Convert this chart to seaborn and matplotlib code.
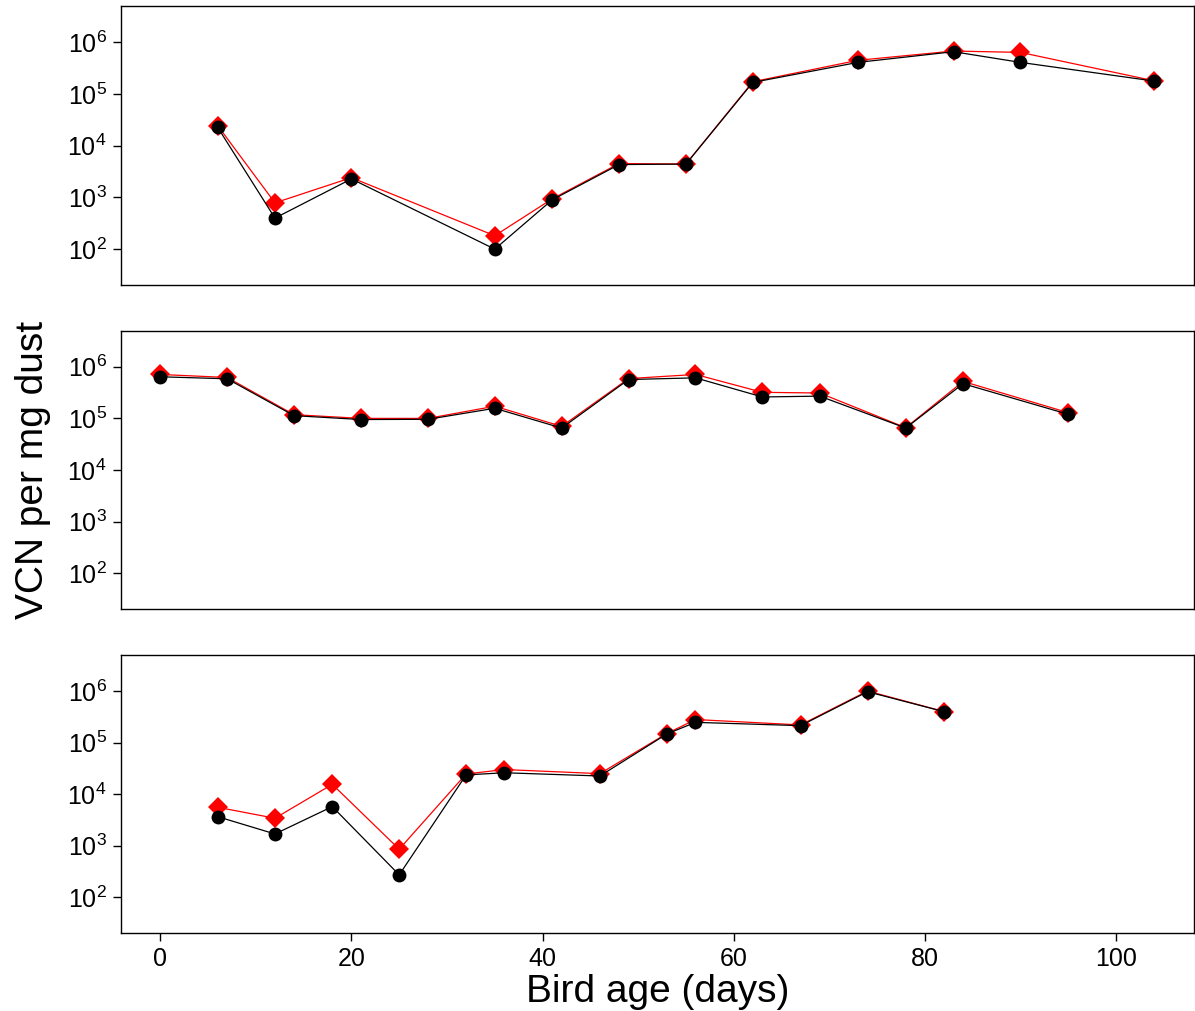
import numpy as np
import pandas as pd
import seaborn as sns
import matplotlib
matplotlib.use("Agg")
import matplotlib.pyplot as plt
from matplotlib.ticker import LogLocator, NullLocator, LogFormatterSciNotation

# bird age (days) and VCN per mg dust, one pair of series per panel
top_days = [6, 12, 20, 35, 41, 48, 55, 62, 73, 83, 90, 104]
top_red = [2.45e4, 780, 2400, 180, 930, 4500, 4400, 1.73e5, 4.5e5, 6.8e5, 6.4e5, 1.8e5]
top_black = [2.27e4, 395, 2270, 99, 890, 4300, 4400, 1.68e5, 4.1e5, 6.6e5, 4.1e5, 1.78e5]

mid_days = [0, 7, 14, 21, 28, 35, 42, 49, 56, 63, 69, 78, 84, 95]
mid_red = [7.1e5, 6.2e5, 1.18e5, 1.0e5, 1.0e5, 1.72e5, 7.0e4, 5.9e5, 7.1e5, 3.2e5, 3.1e5, 6.6e4, 5.2e5, 1.29e5]
mid_black = [6.4e5, 5.85e5, 1.13e5, 9.5e4, 9.6e4, 1.57e5, 6.5e4, 5.66e5, 6.1e5, 2.6e5, 2.7e5, 6.5e4, 4.7e5, 1.2e5]

bot_days = [6, 12, 18, 25, 32, 36, 46, 53, 56, 67, 74, 82]
bot_red = [5570, 3410, 1.55e4, 855, 2.46e4, 3.0e4, 2.5e4, 1.5e5, 2.8e5, 2.2e5, 1.0e6, 4.0e5]
bot_black = [3660, 1690, 5730, 272, 2.36e4, 2.6e4, 2.25e4, 1.47e5, 2.47e5, 2.13e5, 9.7e5, 3.98e5]

panels = [
    (top_days, top_red, top_black),
    (mid_days, mid_red, mid_black),
    (bot_days, bot_red, bot_black),
]

sns.set_style("ticks")
plt.rcParams["font.family"] = ["Liberation Sans", "DejaVu Sans"]
plt.rcParams["mathtext.default"] = "regular"
plt.rcParams["text.color"] = "black"
plt.rcParams["axes.labelcolor"] = "black"

fig = plt.figure(figsize=(11.95, 10.11), dpi=100)

W, H = 1195.0, 1011.0
left, right = 120.5 / W, 1194.0 / W
boxes = [(6.3, 285.0), (330.7, 609.3), (655.0, 933.3)]

axes = []
for (top_px, bot_px), (days, red, black) in zip(boxes, panels):
    ax = fig.add_axes([left, 1 - bot_px / H, right - left, (bot_px - top_px) / H])
    ax.set_yscale("log")
    df = pd.DataFrame({"day": days, "red": red, "black": black})
    sns.lineplot(data=df, x="day", y="red", ax=ax, color="red", marker="D",
                 markersize=10.5, markeredgewidth=0, linewidth=0.9, sort=False)
    sns.lineplot(data=df, x="day", y="black", ax=ax, color="black", marker="o",
                 markersize=10, markeredgewidth=0, linewidth=0.9, sort=False)
    ax.set_xlim(-4.16, 108.16)
    ax.set_ylim(20, 5e6)
    ax.yaxis.set_major_locator(LogLocator(base=10, numticks=10))
    ax.yaxis.set_major_formatter(LogFormatterSciNotation())
    ax.yaxis.set_minor_locator(NullLocator())
    ax.set_xlabel("")
    ax.set_ylabel("")
    for sp in ax.spines.values():
        sp.set_color("black")
        sp.set_linewidth(1.0)
    ax.tick_params(axis="y", direction="out", length=6, width=1, pad=4,
                   labelsize=18, colors="black")
    ax.tick_params(axis="x", bottom=False, labelbottom=False)
    axes.append(ax)

axb = axes[-1]
axb.set_xticks([0, 20, 40, 60, 80, 100])
axb.tick_params(axis="x", bottom=True, labelbottom=True, direction="out",
                length=6, width=1, pad=4, labelsize=18, colors="black")
axb.set_xlabel("Bird age (days)", fontsize=28, labelpad=2)
axes[1].set_ylabel("VCN per mg dust", fontsize=28, labelpad=12)

fig.savefig("out.png", dpi=100)
